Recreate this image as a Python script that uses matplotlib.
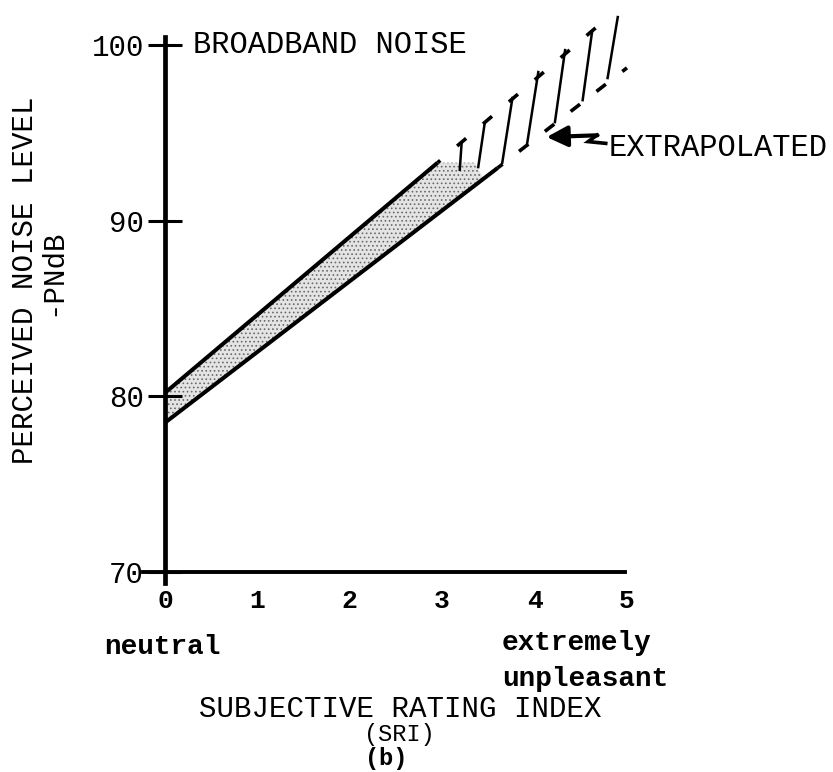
import numpy as np
import matplotlib
matplotlib.use("Agg")
import matplotlib.pyplot as plt

plt.rcParams["font.family"] = ["Liberation Mono", "DejaVu Sans Mono"]
plt.rcParams["lines.scale_dashes"] = False
plt.rcParams["hatch.linewidth"] = 0.7

# --- data -------------------------------------------------------------
sri_ticks = [0, 1, 2, 3, 4, 5]
pndb_ticks = [70, 80, 90, 100]

# measured band (solid edges)
sri_upper = [0.0, 2.95]
pndb_upper = [80.2, 93.3]
sri_lower = [0.0, 3.6]
pndb_lower = [78.5, 93.0]

# shaded part of the measured band (outline)
band_sri = [0.0, 2.95, 3.35, 3.45, 0.0]
band_pndb = [80.2, 93.3, 93.3, 92.4, 78.5]

# extrapolated edges (dashed)
sri_upper_ext = [2.95, 4.8]
pndb_upper_ext = [93.3, 101.6]
sri_lower_ext = [3.6, 5.0]
pndb_lower_ext = [93.0, 98.7]

# strokes across the extrapolated band: bottom / top ends
stroke_sri_bot = [3.19, 3.39, 3.65, 3.92, 4.22, 4.52, 4.79]
stroke_pndb_bot = [92.9, 93.05, 93.3, 94.42, 95.61, 96.86, 98.12]
stroke_sri_top = [3.21, 3.46, 3.76, 4.04, 4.33, 4.62, 4.90]
stroke_pndb_top = [94.4, 95.55, 96.98, 98.46, 99.71, 100.68, 101.59]

# --- figure -------------------------------------------------------------
W, H = 833, 772
fig = plt.figure(figsize=(W / 100, H / 100), dpi=100)

# axes placed so that SRI 0..5 spans px 165..627 and PNdB 70..100 spans px 572..45
xlim = (-0.3, 5.3)
ylim = (69.0, 102.8)
ppx = (627 - 165) / 5.0
ppy = (572 - 45) / 30.0
left_px = 165 + xlim[0] * ppx
bottom_px = 572 + (ylim[0] - 70) * -ppy  # from top
ax = fig.add_axes([left_px / W,
                   (H - bottom_px) / H,
                   (xlim[1] - xlim[0]) * ppx / W,
                   (ylim[1] - ylim[0]) * ppy / H])
ax.set_xlim(*xlim)
ax.set_ylim(*ylim)
ax.patch.set_visible(False)

for s in ("top", "right"):
    ax.spines[s].set_visible(False)
ax.spines["left"].set_position(("data", 0))
ax.spines["bottom"].set_position(("data", 70))
ax.spines["left"].set_bounds(69.35, 100.45)
ax.spines["bottom"].set_bounds(-0.24, 4.98)
ax.spines["left"].set_linewidth(3.4)
ax.spines["bottom"].set_linewidth(2.8)

ax.set_yticks(pndb_ticks)
ax.set_yticklabels([str(v) for v in pndb_ticks])
ax.tick_params(axis="y", direction="inout", length=24, width=2.2, pad=3,
               labelsize=21)
ax.set_xticks(sri_ticks)
ax.set_xticklabels([str(v) for v in sri_ticks], fontweight="bold")
ax.tick_params(axis="x", length=0, pad=12, labelsize=19)

# shaded measured band
ax.fill(band_sri, band_pndb, facecolor="#e4e4e4", edgecolor="#6a6a6a",
        hatch="....", linewidth=0, zorder=1)
ax.plot(sri_upper, pndb_upper, color="k", lw=2.9, solid_capstyle="butt", zorder=3)
ax.plot(sri_lower, pndb_lower, color="k", lw=2.9, solid_capstyle="butt", zorder=3)

# extrapolated band
ax.plot(sri_upper_ext, pndb_upper_ext, color="k", lw=2.6,
        linestyle=(6, (8.5, 16)), zorder=3)
ax.plot(sri_lower_ext, pndb_lower_ext, color="k", lw=2.6,
        linestyle=(4, (8.5, 15)), zorder=3)
for xb, yb, xt, yt in zip(stroke_sri_bot, stroke_pndb_bot,
                          stroke_sri_top, stroke_pndb_top):
    ax.plot([xb, xt], [yb, yt], color="k", lw=1.8, zorder=3)

# annotations
ax.text(0.30, 100, "BROADBAND NOISE", fontsize=22, va="center", ha="left")

ax.annotate("", xy=(4.13, 94.76), xytext=(4.68, 94.86),
            arrowprops=dict(arrowstyle="-|>,head_length=0.7,head_width=0.35",
                            lw=3.0, color="k", mutation_scale=18,
                            shrinkA=0, shrinkB=0))
ax.plot([4.675, 4.58, 4.77], [94.87, 94.50, 94.40], color="k", lw=2.6,
        solid_joinstyle="miter", clip_on=False)
ax.text(4.80, 94.13, "EXTRAPOLATED", fontsize=22, va="center", ha="left",
        clip_on=False)

# x-axis annotations below the axis
def fy(py):
    return 1 - py / H

def fx(px):
    return px / W

fig.text(fx(162), fy(647), "neutral", fontsize=20, fontweight="bold",
         ha="center", va="center")
fig.text(fx(502), fy(643), "extremely", fontsize=20, fontweight="bold",
         ha="left", va="center")
fig.text(fx(502), fy(679), "unpleasant", fontsize=20, fontweight="bold",
         ha="left", va="center")
fig.text(fx(400), fy(709), "SUBJECTIVE RATING INDEX", fontsize=21,
         ha="center", va="center")
fig.text(fx(399), fy(734), "(SRI)", fontsize=17, ha="center", va="center")
fig.text(fx(386), fy(758), "(b)", fontsize=17, fontweight="bold",
         ha="center", va="center")

# y-axis title
fig.text(fx(25), fy(280), "PERCEIVED NOISE LEVEL", fontsize=21, rotation=90,
         ha="center", va="center")
fig.text(fx(52), fy(272), "-PNdB", fontsize=21, rotation=90,
         ha="center", va="center")

fig.savefig("out.png", dpi=100, facecolor="white")
